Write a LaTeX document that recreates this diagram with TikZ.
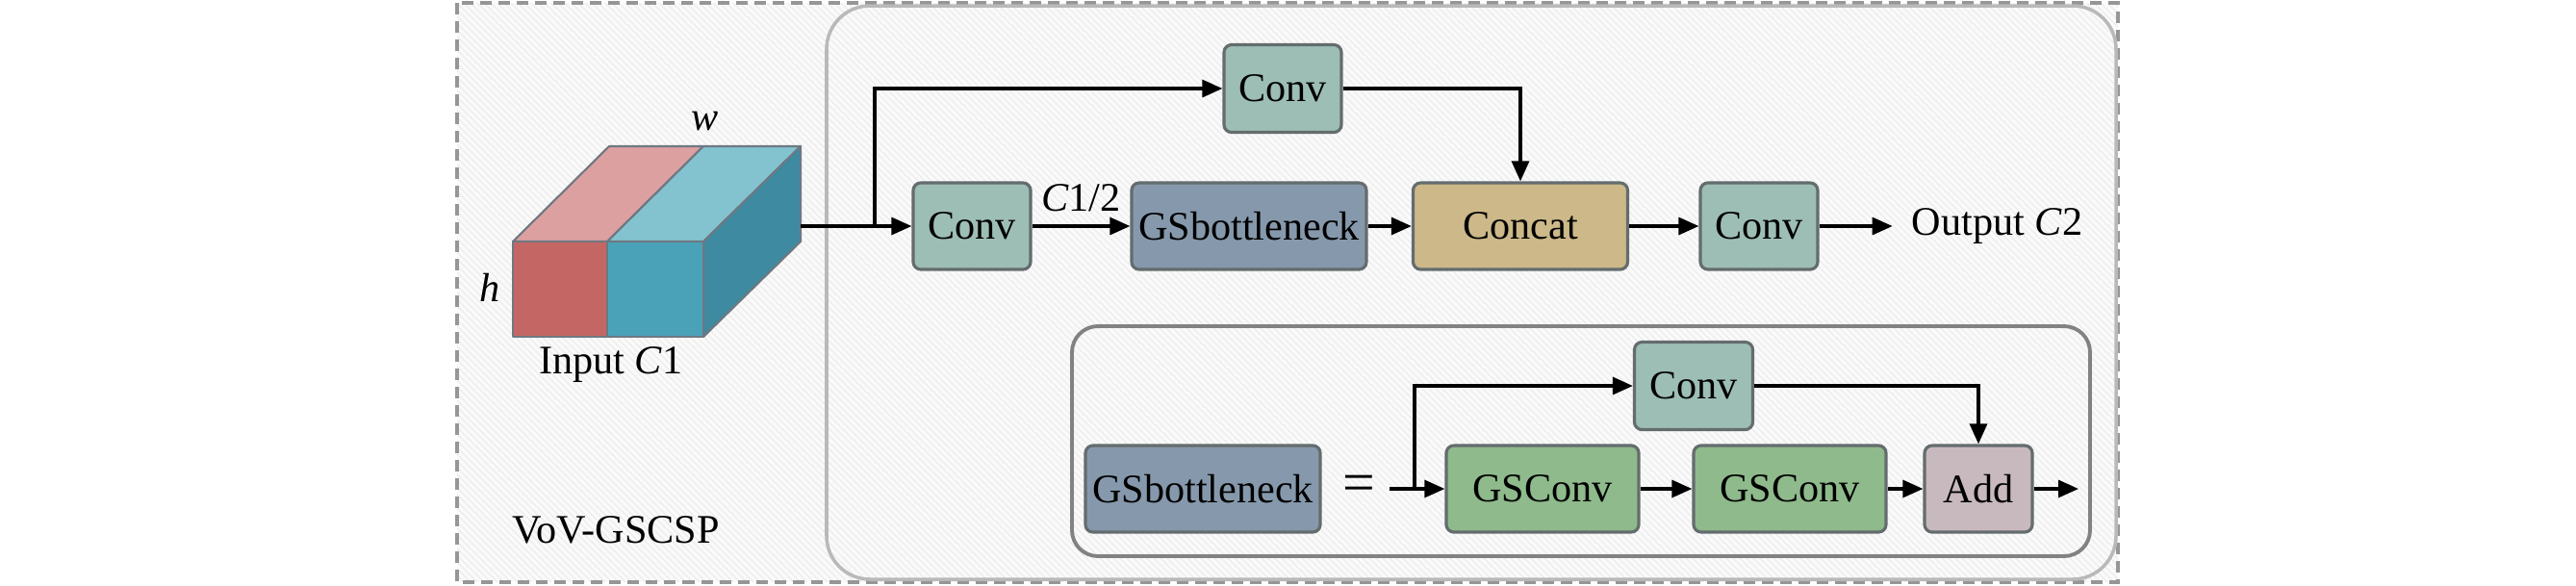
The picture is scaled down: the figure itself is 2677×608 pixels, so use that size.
\documentclass[tikz,border=0pt]{standalone}
\usepackage{fontspec}
\setmainfont{Liberation Serif}
\usetikzlibrary{arrows.meta}
\definecolor{convc}{RGB}{157,190,180}
\definecolor{concatc}{RGB}{204,184,136}
\definecolor{gsbc}{RGB}{134,153,172}
\definecolor{gsconvc}{RGB}{143,186,140}
\definecolor{addc}{RGB}{200,185,190}
\definecolor{edgec}{RGB}{100,108,110}
\definecolor{redfront}{RGB}{196,102,100}
\definecolor{redtop}{RGB}{221,160,160}
\definecolor{tealfront}{RGB}{74,162,184}
\definecolor{tealtop}{RGB}{131,195,208}
\definecolor{tealside}{RGB}{62,138,160}
\definecolor{cubeedge}{RGB}{110,120,130}
\definecolor{bgc}{RGB}{250,250,250}
\definecolor{hatchc}{RGB}{236,236,236}
\tikzset{
  blk/.style={draw=edgec, line width=0.9pt, rounded corners=0.08cm, minimum height=0.9cm, inner sep=0pt, font=\fontsize{12}{14}\selectfont},
  convbox/.style={blk, fill=convc, minimum width=1.22cm},
  gsbbox/.style={blk, fill=gsbc, minimum width=2.44cm},
  concatbox/.style={blk, fill=concatc, minimum width=2.23cm},
  gsconvbox/.style={blk, fill=gsconvc, minimum width=2.0cm},
  addbox/.style={blk, fill=addc, minimum width=1.12cm},
  arr/.style={line width=0.9pt, -{Triangle[length=0.21cm,width=0.18cm]}},
  txt/.style={font=\fontsize{12}{14}\selectfont, inner sep=0pt},
  cubef/.style={draw=cubeedge, line width=0.6pt, line join=round}
}
\begin{document}
\begin{tikzpicture}[x=0.01cm, y=-0.01cm]
\useasboundingbox (0,0) rectangle (2677,608);
% background and hatching
\fill[bgc] (475,3) rectangle (2201,605);
\begin{scope}
\clip (475,3) rectangle (2201,605);
\foreach \i in {0,...,335}{
  \draw[hatchc, line width=0.35pt] ({475-602+7*\i},3) -- ({475+7*\i},605);
}
\end{scope}
\draw[draw={rgb,255:red,150;green,150;blue,150}, line width=1.1pt, dash pattern=on 0.12cm off 0.07cm] (475,3) rectangle (2201,605);
% inner big box
\draw[draw={rgb,255:red,185;green,185;blue,185}, line width=1pt, rounded corners=0.45cm] (859,6) rectangle (2199,602);
% lower box
\draw[draw={rgb,255:red,130;green,130;blue,130}, line width=1.1pt, rounded corners=0.27cm] (1114,339) rectangle (2172,578);

% cube
\filldraw[cubef, fill=redtop] (533,251) -- (631,251) -- (731,152) -- (633,152) -- cycle;
\filldraw[cubef, fill=tealtop] (631,251) -- (731,251) -- (832,152) -- (731,152) -- cycle;
\filldraw[cubef, fill=tealside] (731,251) -- (832,152) -- (832,251) -- (731,350) -- cycle;
\filldraw[cubef, fill=redfront] (533,251) rectangle (631,350);
\filldraw[cubef, fill=tealfront] (631,251) rectangle (731,350);
\node[txt] (wlab) at (733,126) {\textit{w}};
\node[txt] (hlab) at (509,299) {\textit{h}};
\node[txt] (inlab) at (635,379) {Input \textit{C}1};
\node[txt] (vov) at (640,551) {VoV-GSCSP};

% main row
\coordinate (cubeout) at (832,235);
\node[convbox] (conv1) at (1010,235) {Conv};
\node[convbox, minimum height=0.91cm] (convtop) at (1333,92) {Conv};
\node[gsbbox] (gsb) at (1298,235) {GSbottleneck};
\node[concatbox] (concat) at (1580,235) {Concat};
\node[convbox] (conv3) at (1828,235) {Conv};
\node[txt, anchor=west] (outlab) at (1986,235) {Output \textit{C}2};
\coordinate (br1) at (909,235);

\draw[arr] (cubeout) -- (conv1.west);
\draw[arr] (br1) |- (convtop.west);
\draw[arr] (conv1.east) -- node[txt, above=0.14cm] (c12) {\textit{C}1/2} (gsb.west);
\draw[arr] (gsb.east) -- (concat.west);
\draw[arr] (convtop.east) -| (concat.north);
\draw[arr] (concat.east) -- (conv3.west);
\draw[arr] (conv3.east) -- ++(0.76cm,0) coordinate (outtip);

% lower definition
\node[gsbbox] (gsb2) at (1250,508) {GSbottleneck};
\node[txt, font=\fontsize{17}{18}\selectfont] (eq) at (1412,508) {=};
\coordinate (lstart) at (1444,508);
\coordinate (br2) at (1470,508);
\node[convbox, minimum height=0.91cm, minimum width=1.23cm] (conv4) at (1760,401) {Conv};
\node[gsconvbox] (gsc1) at (1603,508) {GSConv};
\node[gsconvbox] (gsc2) at (1860,508) {GSConv};
\node[addbox] (add) at (2056,508) {Add};
\coordinate (addout) at (2160,508);

\draw[arr] (lstart) -- (gsc1.west);
\draw[arr] (br2) |- (conv4.west);
\draw[arr] (gsc1.east) -- (gsc2.west);
\draw[arr] (gsc2.east) -- (add.west);
\draw[arr] (conv4.east) -| (add.north);
\draw[arr] (add.east) -- (addout);
\end{tikzpicture}
\end{document}
